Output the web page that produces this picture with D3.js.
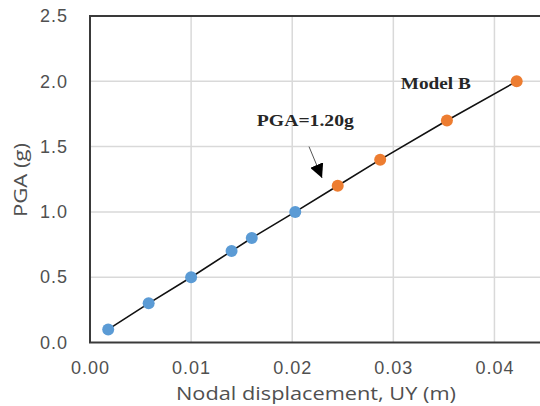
<!DOCTYPE html>
<meta charset="utf-8">
<style>
body { margin: 0; background: #fff; }
svg { font-family: "Open Sans", sans-serif; }
.tick text { fill: #505050; font-size: 18px; letter-spacing: 1px; }
.grid line { stroke: #d9d9d9; stroke-width: 1.5; }
.note { font-family: "Liberation Serif", "Times New Roman", serif; font-weight: bold; fill: #262626; }
</style>
<body>
<script src="https://d3js.org/d3.v7.min.js"></script>
<script>
var width = 540, height = 406;

// Model A (blue) and Model B (orange) points
var dispA = [0.0018, 0.0058, 0.0100, 0.0140, 0.0160, 0.0203];
var pgaA  = [0.1, 0.3, 0.5, 0.7, 0.8, 1.0];
var dispB = [0.0245, 0.0287, 0.0353, 0.0422];
var pgaB  = [1.2, 1.4, 1.7, 2.0];

var xTicks = [0, 0.01, 0.02, 0.03, 0.04];
var yTicks = [0, 0.5, 1.0, 1.5, 2.0, 2.5];

var x = d3.scaleLinear().domain([0, 0.045]).range([90, 545]);
var y = d3.scaleLinear().domain([0, 2.5]).range([342.5, 16]);

var svg = d3.select("body").append("svg")
	.attr("width", width)
	.attr("height", height);

// grid
svg.append("g").attr("class", "grid")
	.selectAll("line.v").data(xTicks.slice(1)).enter().append("line")
	.attr("x1", function(d) { return x(d); }).attr("x2", function(d) { return x(d); })
	.attr("y1", y(0)).attr("y2", y(2.5));
svg.select(".grid")
	.selectAll("line.h").data(yTicks.slice(1)).enter().append("line")
	.attr("x1", x(0)).attr("x2", x(0.045))
	.attr("y1", function(d) { return y(d); }).attr("y2", function(d) { return y(d); });

// frame
svg.append("rect")
	.attr("x", x(0)).attr("y", y(2.5))
	.attr("width", x(0.045) - x(0)).attr("height", y(0) - y(2.5))
	.attr("fill", "none").attr("stroke", "#3a3a3a").attr("stroke-width", 2);

// axes
var xAxis = d3.axisBottom(x).tickValues(xTicks).tickSize(0).tickPadding(19)
	.tickFormat(d3.format(".2f"));
svg.append("g").attr("transform", "translate(0," + y(0) + ")").call(xAxis)
	.call(function(g) { g.select(".domain").remove(); });

var yAxis = d3.axisLeft(y).tickValues(yTicks).tickSize(0).tickPadding(22)
	.tickFormat(d3.format(".1f"));
svg.append("g").attr("transform", "translate(" + x(0) + ",0)").call(yAxis)
	.call(function(g) { g.select(".domain").remove(); });

// axis titles
svg.append("text")
	.attr("x", 316).attr("y", 400)
	.attr("text-anchor", "middle")
	.attr("fill", "#505050").attr("font-size", 19)
	.attr("textLength", 280).attr("lengthAdjust", "spacingAndGlyphs")
	.text("Nodal displacement, UY (m)");

svg.append("text")
	.attr("transform", "translate(27,180) rotate(-90)")
	.attr("text-anchor", "middle")
	.attr("fill", "#505050").attr("font-size", 19)
	.attr("textLength", 74).attr("lengthAdjust", "spacingAndGlyphs")
	.text("PGA (g)");

// connecting line
var all = dispA.map(function(d, i) { return [d, pgaA[i]]; })
	.concat(dispB.map(function(d, i) { return [d, pgaB[i]]; }));
svg.append("path")
	.datum(all)
	.attr("fill", "none").attr("stroke", "#111").attr("stroke-width", 1.6)
	.attr("d", d3.line().x(function(d) { return x(d[0]); }).y(function(d) { return y(d[1]); }));

// markers
svg.append("g").selectAll("circle").data(dispA).enter().append("circle")
	.attr("cx", function(d) { return x(d); })
	.attr("cy", function(d, i) { return y(pgaA[i]); })
	.attr("r", 6).attr("fill", "#5b9bd5");
svg.append("g").selectAll("circle").data(dispB).enter().append("circle")
	.attr("cx", function(d) { return x(d); })
	.attr("cy", function(d, i) { return y(pgaB[i]); })
	.attr("r", 6).attr("fill", "#ed7d31");

// annotations
svg.append("text").attr("class", "note")
	.attr("x", x(0.0342)).attr("y", y(1.987) + 6)
	.attr("text-anchor", "middle").attr("font-size", 16)
	.attr("textLength", 70).attr("lengthAdjust", "spacingAndGlyphs")
	.text("Model B");

svg.append("text").attr("class", "note")
	.attr("x", x(0.0213)).attr("y", y(1.70) + 6)
	.attr("text-anchor", "middle").attr("font-size", 17)
	.attr("textLength", 97).attr("lengthAdjust", "spacingAndGlyphs")
	.text("PGA=1.20g");

svg.append("defs").append("marker")
	.attr("id", "arr").attr("viewBox", "0 0 10 10")
	.attr("refX", 10).attr("refY", 5)
	.attr("markerWidth", 14).attr("markerHeight", 14)
	.attr("markerUnits", "userSpaceOnUse")
	.attr("orient", "auto")
	.append("path").attr("d", "M0,0L10,5L0,10Z").attr("fill", "#000");

svg.append("line")
	.attr("x1", x(0.02166)).attr("y1", y(1.50))
	.attr("x2", x(0.02295)).attr("y2", y(1.26))
	.attr("stroke", "#555").attr("stroke-width", 1)
	.attr("marker-end", "url(#arr)");
</script>
